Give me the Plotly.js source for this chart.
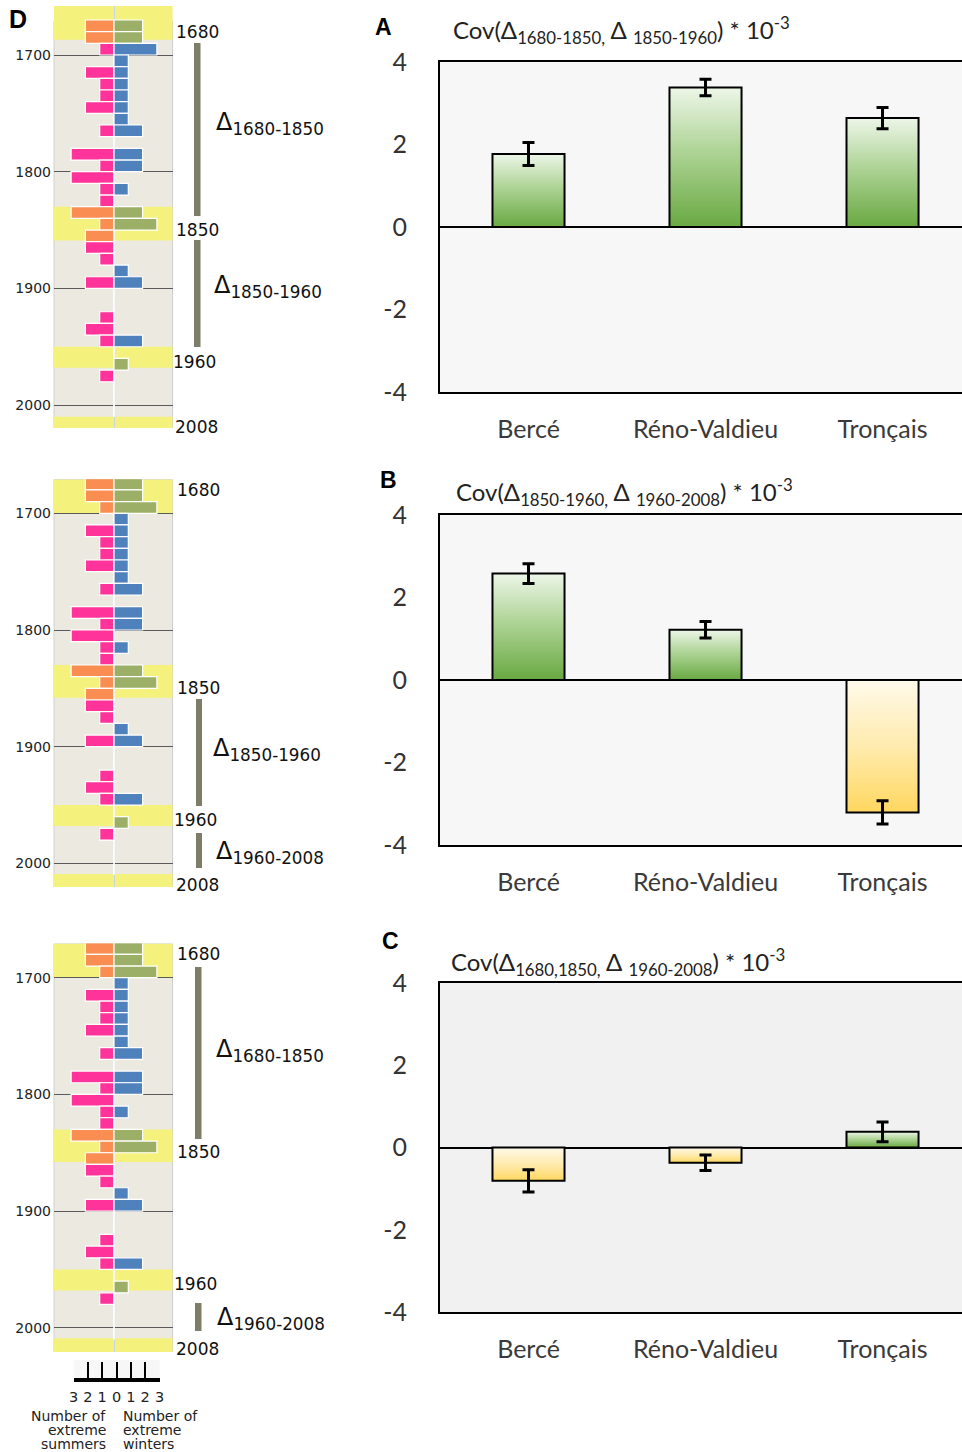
<!DOCTYPE html>
<html><head><meta charset="utf-8">
<script src="https://cdn.plot.ly/plotly-3.0.1.min.js"></script>
<style>body{margin:0;background:#fff}#gd{width:962px;height:1452px}</style>
</head><body><div id="gd"></div>
<script>
// ---------- DATA ----------
const decades  = [1670,1680,1690,1700,1710,1720,1730,1740,1750,1760,1770,1780,1790,1800,1810,1820,1830,1840,1850,1860,1870,1880,1890,1900,1910,1920,1930,1940,1950,1960,1970,1980,1990,2000];
const summers  = [2,2,1,0,2,1,1,2,0,1,0,3,1,3,1,1,3,1,2,2,1,0,2,0,0,1,2,1,0,0,1,0,0,0];
const winters  = [2,2,3,1,1,1,1,1,1,2,0,2,2,0,1,0,2,3,0,0,0,1,2,0,0,0,0,2,0,1,0,0,0,0];
// highlighted periods (yellow bands) per D panel
const bandStart1 = [1658,1830,1950,2010];
const bandEnd1   = [1687,1859,1968,2021];
const bandStart23 = [1671,1830,1950,2009];
const bandEnd23   = [1700,1858,1968,2021];
const yearTicks = [1700,1800,1900,2000];
const countTicks = [-3,-2,-1,0,1,2,3];
const countTickText = ['3','2','1','0','1','2','3'];
const covTicks = [-4,-2,0,2,4];
const covTickText = ['-4','-2','0','2','4'];

const sites = ['Bercé','Réno-Valdieu','Tronçais'];
const covA = [1.77, 3.38, 2.64];  const errA = [0.28, 0.20, 0.26];
const covB = [2.58, 1.22, -3.21]; const errB = [0.24, 0.20, 0.28];
const covC = [-0.81, -0.37, 0.38]; const errC = [0.27, 0.19, 0.24];

// ---------- HELPERS ----------
const W = 962, H = 1452;
const px = x => x / W;
const py = y => 1 - y / H;
const K = 1.167; // px per year in D panels
const GREEN = '#70AD47', YELLOW = '#FFD966';
const PINK = '#FF3399', BLUE = '#4F81BD', ORANGE = '#F98D52', OLIVE = '#9BB066';

const data = [];
const shapes = [];
const annotations = [];
const layout = {
  width: W, height: H, margin: {l:0, r:0, t:0, b:0},
  paper_bgcolor: '#ffffff', plot_bgcolor: '#F7F7F7',
  showlegend: false, barmode: 'overlay',
  font: {family: 'DejaVu Sans', color: '#222'},
  shapes: shapes, annotations: annotations
};

function ann(text, x, y, o) {
  annotations.push(Object.assign({
    text: text, x: px(x), y: py(y), xref: 'paper', yref: 'paper',
    showarrow: false, xanchor: 'left', yanchor: 'middle',
    font: {family: 'DejaVu Sans', size: 17, color: '#111'}
  }, o || {}));
}
function rectPx(x0, y0, x1, y1, color) {
  shapes.push({type: 'rect', xref: 'paper', yref: 'paper', x0: px(x0), x1: px(x1), y0: py(y1), y1: py(y0),
    fillcolor: color, line: {width: 0}, layer: 'above'});
}

// ---------- D PANELS ----------
const dPanels = [
  {p1700: 55,    top: 6,     bottom: 428,  bs: bandStart1,  be: bandEnd1},
  {p1700: 513.3, top: 479.3, bottom: 887,  bs: bandStart23, be: bandEnd23},
  {p1700: 977.7, top: 943.3, bottom: 1352, bs: bandStart23, be: bandEnd23}
];
dPanels.forEach((p, i) => {
  const n = i + 1;
  const xa = 'x' + n, ya = 'y' + n;
  const yr = pix => 1700 + (pix - p.p1700) / K;
  const inBand = d => p.bs.some((s, j) => d + 5 >= s && d + 5 <= p.be[j]);
  const mid = decades.map(d => d + 5);
  data.push({type: 'bar', orientation: 'h', xaxis: xa, yaxis: ya, y: mid, x: summers.map(v => -v),
    width: 10, marker: {color: decades.map(d => inBand(d) ? ORANGE : PINK), line: {color: '#ffffff', width: 1.2}},
    hoverinfo: 'skip'});
  data.push({type: 'bar', orientation: 'h', xaxis: xa, yaxis: ya, y: mid, x: winters,
    width: 10, marker: {color: decades.map(d => inBand(d) ? OLIVE : BLUE), line: {color: '#ffffff', width: 1.2}},
    hoverinfo: 'skip'});
  layout['xaxis' + n] = {domain: [px(54), px(172.5)], range: [-(114 - 54) / 14.3, (172.5 - 114) / 14.3],
    anchor: ya, showticklabels: false, showgrid: false, ticks: '', showline: false,
    zeroline: true, zerolinecolor: '#c8d5e4', zerolinewidth: 1, fixedrange: true};
  layout['yaxis' + n] = {domain: [py(p.bottom), py(p.top)], range: [yr(p.bottom), yr(p.top)],
    anchor: xa, tickvals: yearTicks, showgrid: true, gridcolor: '#5a5a5a', gridwidth: 1,
    zeroline: false, showline: false, ticks: '', ticklabelstandoff: 2,
    tickfont: {family: 'DejaVu Sans', size: 14, color: '#222'}, fixedrange: true};
  // beige frame
  shapes.push({type: 'rect', xref: xa + ' domain', yref: ya, x0: 0, x1: 1, y0: 1671, y1: 2030,
    fillcolor: '#ECEAE0', line: {color: '#cfcfcf', width: 1}, layer: 'below'});
  // yellow bands
  p.bs.forEach((s, j) => {
    shapes.push({type: 'rect', xref: xa + ' domain', yref: ya, x0: 0, x1: 1, y0: s, y1: p.be[j],
      fillcolor: '#F4F27C', line: {width: 0}, layer: 'below'});
  });
});

// bottom count scale under panel 3
data.push({type: 'scatter', x: [], y: [], xaxis: 'x7', yaxis: 'y7', hoverinfo: 'skip'});
layout.xaxis7 = {domain: [px(73.5), px(159.5)], range: [-3, 3], anchor: 'y7', tickvals: countTicks, ticktext: countTickText,
  ticks: 'inside', ticklen: 16, tickwidth: 2, tickcolor: '#000', showline: true, linewidth: 3.5, linecolor: '#000',
  showgrid: false, zeroline: false, tickfont: {family: 'DejaVu Sans', size: 14.5, color: '#222'}, ticklabelstandoff: 3, fixedrange: true};
layout.yaxis7 = {domain: [py(1378), py(1360)], range: [0, 1], anchor: 'x7', visible: false, fixedrange: true};

// ---------- A, B, C PANELS ----------
const covPanels = [
  {vals: covA, errs: errA, top: 62,  bottom: 392},
  {vals: covB, errs: errB, top: 515, bottom: 845},
  {vals: covC, errs: errC, top: 983, bottom: 1312}
];
covPanels.forEach((p, i) => {
  const n = i + 4;
  const xa = 'x' + n, ya = 'y' + n;
  data.push({type: 'bar', xaxis: xa, yaxis: ya, x: sites, y: p.vals, width: 0.407,
    marker: {color: p.vals.map(v => v >= 0 ? GREEN : YELLOW), line: {color: '#000', width: 2}},
    error_y: {type: 'data', array: p.errs, visible: true, color: '#000', thickness: 3, width: 6},
    hoverinfo: 'skip'});
  layout['xaxis' + n] = {domain: [px(440), 1], range: [-0.5, 2.449], anchor: ya, type: 'category',
    showline: true, linecolor: '#000', linewidth: 2, mirror: true, ticks: '', showgrid: false, zeroline: false,
    tickfont: {family: 'Lato', size: 25, color: '#3a3a3a'}, ticklabelstandoff: 14, fixedrange: true};
  layout['yaxis' + n] = {domain: [py(p.bottom), py(p.top)], range: [-4, 4], anchor: xa,
    tickvals: covTicks, ticktext: covTickText, showline: true, linecolor: '#000', linewidth: 2, ticks: '', showgrid: false,
    zeroline: true, zerolinecolor: '#000', zerolinewidth: 2,
    tickfont: {family: 'Lato', size: 25, color: '#333'}, ticklabelstandoff: 26, fixedrange: true};
});
// panel C background is a touch darker
shapes.push({type: 'rect', xref: 'x6 domain', yref: 'y6 domain', x0: 0, x1: 1, y0: 0, y1: 1,
  fillcolor: '#F1F1F1', line: {width: 0}, layer: 'below'});

// ---------- TEXT ----------
const bold = (s) => ({family: 'Liberation Sans', size: s, color: '#000'});
ann('<b>D</b>', 7, 19, {font: bold(25)});
ann('<b>A</b>', 373, 27, {font: bold(23)});
ann('<b>B</b>', 378, 480, {font: bold(23)});
ann('<b>C</b>', 380, 941, {font: bold(23)});

const tFont = {family: 'Lato', size: 24, color: '#222'};
ann('Cov(Δ<sub>1680-1850,</sub> Δ <sub>1850-1960</sub>) * 10<sup>-3</sup>', 451, 30, {font: tFont});
ann('Cov(Δ<sub>1850-1960,</sub> Δ <sub>1960-2008</sub>) * 10<sup>-3</sup>', 454, 492, {font: tFont});
ann('Cov(Δ<sub>1680,1850,</sub> Δ <sub>1960-2008</sub>) * 10<sup>-3</sup>', 449, 962, {font: tFont});

// period labels beside D panels
const yl = (t, x, y) => ann(t, x, y, {font: {family: 'DejaVu Sans', size: 17, color: '#111'}});
const dl = (t, x, y) => ann('Δ<sub>' + t + '</sub>', x, y, {font: {family: 'DejaVu Sans', size: 24, color: '#111'}});
// panel 1
yl('1680', 174, 32); yl('1850', 174, 230); yl('1960', 171, 362); yl('2008', 173, 427);
rectPx(194, 43, 200.5, 216, '#7D7D69'); rectPx(194, 240, 200.5, 347, '#7D7D69');
dl('1680-1850', 214, 124); dl('1850-1960', 212, 286);
// panel 2
yl('1680', 175, 490); yl('1850', 175, 688); yl('1960', 172, 820); yl('2008', 174, 885);
rectPx(196, 699, 202, 806, '#7D7D69'); rectPx(196, 833, 202, 868, '#7D7D69');
dl('1850-1960', 211, 749); dl('1960-2008', 214, 852);
// panel 3
yl('1680', 175, 954); yl('1850', 175, 1152); yl('1960', 172, 1284); yl('2008', 174, 1349);
rectPx(195, 967, 201.5, 1139, '#7D7D69'); rectPx(195, 1303, 201.5, 1331, '#7D7D69');
dl('1680-1850', 214, 1050); dl('1960-2008', 215, 1318);

// count axis captions
const cf = {family: 'DejaVu Sans', size: 14, color: '#222'};
[['Number of', 1416], ['extreme', 1430], ['summers', 1444]].forEach(a => ann(a[0], 108, a[1], {xanchor: 'right', font: cf}));
[['Number of', 1416], ['extreme', 1430], ['winters', 1444]].forEach(a => ann(a[0], 121, a[1], {xanchor: 'left', font: cf}));

// ---------- RENDER ----------
const gd = document.getElementById('gd');
Plotly.newPlot(gd, data, layout, {staticPlot: true}).then(() => {
  const NS = 'http://www.w3.org/2000/svg';
  const svg = gd.querySelector('svg.main-svg');
  let defs = svg.querySelector('defs');
  function grad(id, stops) {
    const g = document.createElementNS(NS, 'linearGradient');
    g.setAttribute('id', id); g.setAttribute('x1', '0'); g.setAttribute('y1', '0');
    g.setAttribute('x2', '0'); g.setAttribute('y2', '1');
    stops.forEach(s => {
      const st = document.createElementNS(NS, 'stop');
      st.setAttribute('offset', s[0]); st.setAttribute('stop-color', s[1]);
      g.appendChild(st);
    });
    defs.appendChild(g);
  }
  grad('gGreen', [[0, '#EDF6E8'], [0.45, '#AFD497'], [1, '#69A942']]);
  grad('gYellow', [[0, '#FFFAEA'], [0.5, '#FFEBAE'], [1, '#FFD760']]);
  ['x4y4', 'x5y5', 'x6y6'].forEach(sp => {
    gd.querySelectorAll('.subplot.' + sp + ' .barlayer .point path').forEach(p => {
      const f = p.style.fill || '';
      p.style.fill = f.indexOf('112, 173, 71') >= 0 ? 'url(#gGreen)' : 'url(#gYellow)';
    });
  });
});
</script></body></html>
